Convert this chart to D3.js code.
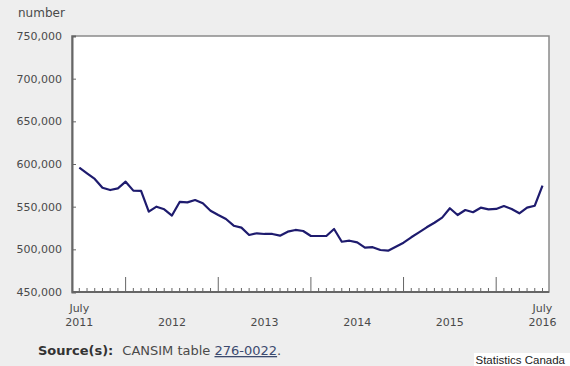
<!DOCTYPE html>
<html>
<head>
<meta charset="utf-8">
<script src="https://cdn.jsdelivr.net/npm/d3@7"></script>
<style>
  html, body { margin: 0; padding: 0; background: #eeeeee; }
  svg { display: block; font-family: "DejaVu Sans", Verdana, sans-serif; }
</style>
</head>
<body>
<div id="chart"></div>
<script>
// monthly values, July 2011 .. July 2016
const values = [
  595700, 589000, 582500, 572200, 569500, 571500, 579300, 568800, 568400, 544100,
  550000, 546900, 539600, 555500, 555000, 557800, 554000, 545300, 540200, 535500,
  527700, 525400, 516800, 518800, 518000, 518000, 516000, 520700, 522700, 521500,
  515600, 515600, 515600, 523800, 508900, 510100, 508200, 501900, 502500, 499200,
  498400, 503100, 507800, 514100, 519900, 525800, 531200, 537100, 548100, 540200,
  546100, 543500, 548800, 546900, 547300, 550800, 547300, 542200, 548800, 551100,
  574600
];
const yTicks = [450000, 500000, 550000, 600000, 650000, 700000, 750000];
const janIdx = [6, 18, 30, 42, 54];
const xLabels = [
  { i: 0, top: "July", year: "2011" },
  { i: 12, top: "", year: "2012" },
  { i: 24, top: "", year: "2013" },
  { i: 36, top: "", year: "2014" },
  { i: 48, top: "", year: "2015" },
  { i: 60, top: "July", year: "2016" }
];

const width = 570, height = 366;
const plot = { left: 72, right: 549, top: 36, bottom: 292 };

const svg = d3.select("#chart").append("svg")
  .attr("width", width)
  .attr("height", height);

const x = d3.scaleLinear().domain([0, 60]).range([79.3, 542.5]);
const y = d3.scaleLinear().domain([450000, 750000]).range([plot.bottom, plot.top]);

// plot background + frame
svg.append("rect")
  .attr("x", plot.left).attr("y", plot.top)
  .attr("width", plot.right - plot.left).attr("height", plot.bottom - plot.top)
  .attr("fill", "#fff")
  .attr("stroke", "#8a8a8a")
  .attr("stroke-width", 1.5);

// y axis
const yAxis = g => g
  .attr("transform", `translate(${plot.left},0)`)
  .call(d3.axisRight(y).tickValues(yTicks).tickSize(4).tickFormat(""))
  .call(g => g.select(".domain").attr("stroke", "#666").attr("stroke-width", 2));
svg.append("g").call(yAxis).selectAll(".tick line").attr("stroke", "#666");

svg.append("g")
  .selectAll("text")
  .data(yTicks)
  .join("text")
    .attr("x", 62)
    .attr("y", d => y(d))
    .attr("dy", "0.35em")
    .attr("text-anchor", "end")
    .attr("font-size", 11)
    .attr("fill", "#4a4a4a")
    .text(d => d3.format(",")(d));

svg.append("text")
  .attr("x", 18).attr("y", 17)
  .attr("font-size", 12)
  .attr("fill", "#4a4a4a")
  .text("number");

// x axis: minor ticks every month, major at January
svg.append("line")
  .attr("x1", plot.left).attr("x2", plot.right)
  .attr("y1", plot.bottom).attr("y2", plot.bottom)
  .attr("stroke", "#666").attr("stroke-width", 2);

svg.append("g")
  .selectAll("line")
  .data(d3.range(0, 61))
  .join("line")
    .attr("x1", d => x(d)).attr("x2", d => x(d))
    .attr("y1", plot.bottom)
    .attr("y2", d => plot.bottom - (janIdx.includes(d) ? 15 : 4))
    .attr("stroke", "#666")
    .attr("stroke-width", 1);

const xl = svg.append("g")
  .attr("font-size", 11)
  .attr("fill", "#4a4a4a")
  .attr("text-anchor", "middle");
xl.selectAll("text.top")
  .data(xLabels.filter(d => d.top))
  .join("text")
    .attr("class", "top")
    .attr("x", d => x(d.i))
    .attr("y", 312)
    .text(d => d.top);
xl.selectAll("text.year")
  .data(xLabels)
  .join("text")
    .attr("class", "year")
    .attr("x", d => x(d.i))
    .attr("y", 326)
    .text(d => d.year);

// series line
const line = d3.line()
  .x((d, i) => x(i))
  .y(d => y(d));

svg.append("path")
  .datum(values)
  .attr("fill", "none")
  .attr("stroke", "#1e1b6e")
  .attr("stroke-width", 2.2)
  .attr("stroke-linejoin", "round")
  .attr("d", line);

// source
const src = svg.append("text")
  .attr("x", 38).attr("y", 355)
  .attr("font-size", 13)
  .attr("fill", "#4a4a4a");
src.append("tspan").attr("font-weight", "bold").attr("fill", "#333").text("Source(s):");
src.append("tspan").attr("dx", 9).text("CANSIM table ");
src.append("tspan").attr("text-decoration", "underline").attr("fill", "#3c4a6e").text("276-0022");
src.append("tspan").text(".");

// credit box
svg.append("rect")
  .attr("x", 474).attr("y", 353)
  .attr("width", 96).attr("height", 13)
  .attr("fill", "#fff");
svg.append("text")
  .attr("x", 565).attr("y", 364)
  .attr("text-anchor", "end")
  .attr("font-family", "'Liberation Sans', Arial, sans-serif")
  .attr("font-size", 11.5)
  .attr("fill", "#222")
  .text("Statistics Canada");
</script>
</body>
</html>
